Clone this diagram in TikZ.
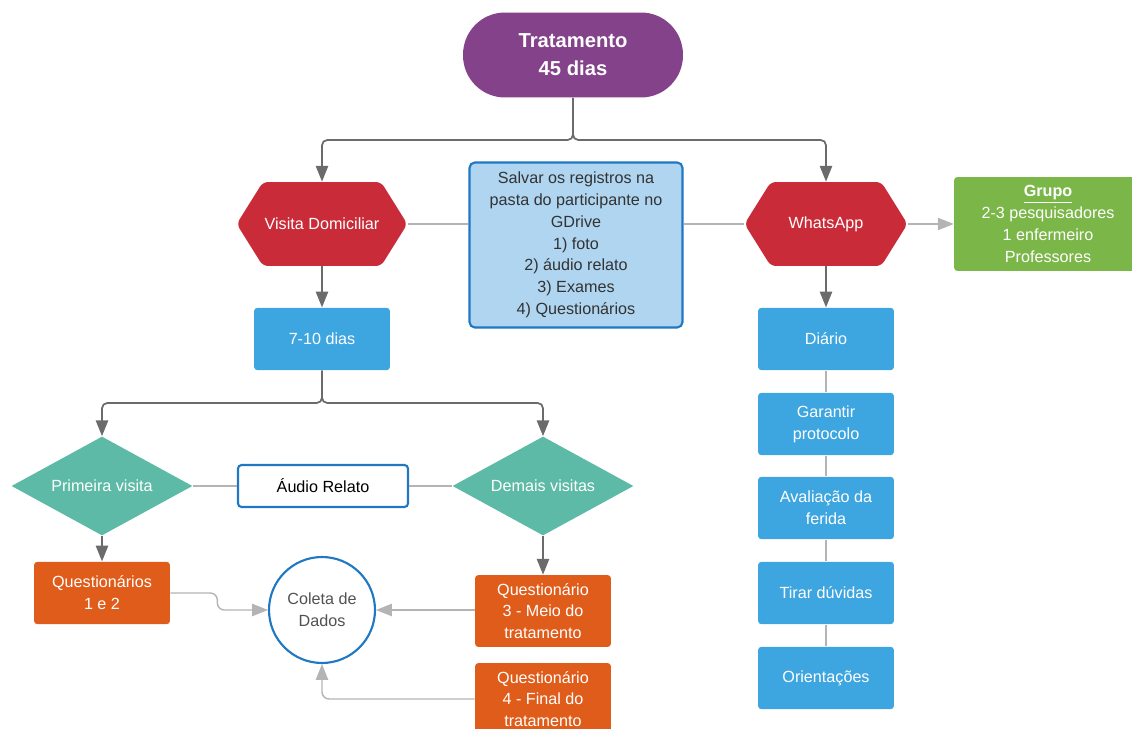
\documentclass[tikz,border=0pt]{standalone}
\usepackage{fontspec}
\setmainfont{Liberation Sans}
\usepackage{tikz}
\usetikzlibrary{shapes,shapes.geometric,shapes.symbols,arrows.meta}

\definecolor{tratpurple}{HTML}{84428A}
\definecolor{hexred}{HTML}{C92B39}
\definecolor{boxblue}{HTML}{3DA5DF}
\definecolor{paleblue}{HTML}{AFD5F0}
\definecolor{edgeblue}{HTML}{1F78C1}
\definecolor{grupogreen}{HTML}{7AB648}
\definecolor{decteal}{HTML}{5DBAA6}
\definecolor{questorange}{HTML}{E05C1A}
\definecolor{arrgray}{HTML}{6B6B6B}
\definecolor{lightarr}{HTML}{B4B4B4}
\definecolor{txtgray}{HTML}{333333}

\begin{document}
\begin{tikzpicture}[x=0.02cm,y=-0.02cm,
  every node/.style={font=\fontsize{9.2}{12.4}\selectfont,align=center},
  box/.style={rectangle,rounded corners=2pt,fill=boxblue,text=white,minimum width=2.72cm,minimum height=1.25cm,inner sep=2pt},
  quest/.style={box,fill=questorange},
  hexa/.style={signal,signal to=west and east,signal pointer angle=116,rounded corners=3pt,fill=hexred,text=white,minimum width=3.26cm,minimum height=1.68cm,inner sep=1pt},
  dec/.style={diamond,aspect=2.5,fill=decteal,text=white,minimum width=3.62cm,minimum height=1.98cm,inner sep=0pt},
  arr/.style={draw=arrgray,line width=1pt,rounded corners=3pt,-{Triangle[length=9pt,width=7pt]}},
  larr/.style={draw=lightarr,line width=0.8pt,rounded corners=4pt,-{Triangle[length=9pt,width=7pt]}},
  link/.style={draw=lightarr,line width=0.8pt}]

\useasboundingbox (0,0) rectangle (1132,729);
\clip (0,0) rectangle (1132,729);

\node[rectangle,rounded corners=0.84cm,fill=tratpurple,text=white,minimum width=4.4cm,minimum height=1.7cm,font=\fontsize{11.5}{16}\selectfont\bfseries] (trat) at (573,55) {Tratamento\\45 dias};

\node[hexa] (visita) at (322,224) {Visita Domiciliar};
\node[hexa] (whats) at (826,224) {WhatsApp};
\node[rectangle,rounded corners=3pt,fill=paleblue,draw=edgeblue,line width=1.2pt,text=txtgray,minimum width=4.26cm,minimum height=3.3cm] (salvar) at (576,245)
  {Salvar os registros na\\pasta do participante no\\GDrive\\1) foto\\2) áudio relato\\3) Exames\\4) Questionários};
\node[rectangle,rounded corners=2pt,fill=grupogreen,text=white,minimum width=3.76cm,minimum height=1.88cm] (grupo) at (1048,224)
  {\underline{\textbf{Grupo}}\\2-3 pesquisadores\\1 enfermeiro\\Professores};

\node[box] (dias) at (322,339) {7-10 dias};
\node[dec] (prim) at (102,486) {Primeira visita};
\node[dec] (demais) at (543,486) {Demais visitas};
\node[rectangle,rounded corners=2pt,fill=white,draw=edgeblue,line width=1.2pt,text=black,minimum width=3.4cm,minimum height=0.84cm] (audio) at (323,486) {Áudio Relato};
\node[quest] (q12) at (102,593) {Questionários\\1 e 2};
\node[quest,minimum height=1.44cm] (q3) at (543,611) {Questionário\\3 - Meio do\\tratamento};
\node[quest,minimum height=1.44cm] (q4) at (543,699) {Questionário\\4 - Final do\\tratamento};
\node[circle,draw=edgeblue,line width=1.2pt,fill=white,text=txtgray!85,minimum size=2.12cm] (coleta) at (322,610) {Coleta de\\Dados};

\node[box] (diario) at (826,339) {Diário};
\node[box] (garantir) at (826,424) {Garantir\\protocolo};
\node[box] (avaliacao) at (826,508) {Avaliação da\\ferida};
\node[box] (tirar) at (826,593) {Tirar dúvidas};
\node[box] (orient) at (826,678) {Orientações};

\coordinate (s1) at (573,140);
\coordinate (s2) at (322,403);

\draw[arr] (trat.south) -- (s1) -| (visita.north);
\draw[arr] (trat.south) -- (s1) -| (whats.north);
\draw[link] (visita.east) -- (visita.east -| salvar.west);
\draw[link] (salvar.east |- whats.west) -- (whats.west);
\draw[larr] (whats.east) -- (grupo.west);
\draw[arr] (visita.south) -- (dias.north);
\draw[arr] (whats.south) -- (diario.north);

\draw[arr] (dias.south) -- (s2) -| (prim.north);
\draw[arr] (dias.south) -- (s2) -| (demais.north);
\draw[link] (prim.east) -- (audio.west);
\draw[link] (audio.east) -- (demais.west);
\draw[arr] (prim.south) -- (q12.north);
\draw[arr] (demais.south) -- (q3.north);

\draw[larr] (q12.east) -- ++(47,0) |- (coleta.west);
\draw[larr] (q3.west |- coleta.east) -- (coleta.east);
\draw[larr] (q4.west) -| (coleta.south);

\foreach \a/\b in {diario/garantir,garantir/avaliacao,avaliacao/tirar,tirar/orient}
  \draw[link] (\a) -- (\b);

\end{tikzpicture}
\end{document}
